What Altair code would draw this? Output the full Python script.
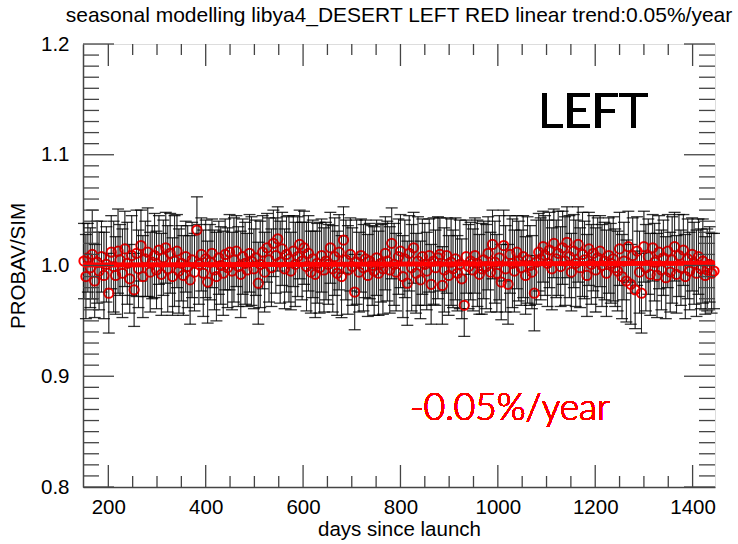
import altair as alt
import pandas as pd

# Days since launch of each seasonal-model comparison
days = [
    150, 154, 158, 163, 167, 172, 177, 181, 186, 191, 196,
    201, 206, 211, 215, 220, 224, 229, 234, 239, 244, 248,
    253, 258, 262, 267, 271, 276, 281, 286, 290, 295, 299,
    304, 309, 313, 318, 322, 327, 332, 336, 341, 345, 350,
    354, 359, 363, 368, 372, 377, 382, 386, 391, 395, 400,
    404, 409, 413, 418, 422, 427, 431, 436, 440, 445, 449,
    454, 458, 463, 467, 472, 476, 481, 485, 490, 494, 499,
    503, 508, 512, 517, 521, 526, 530, 535, 539, 544, 548,
    553, 557, 562, 566, 571, 575, 580, 584, 589, 593, 598,
    602, 607, 611, 616, 620, 625, 629, 634, 638, 643, 647,
    652, 656, 661, 665, 670, 674, 679, 683, 688, 692, 697,
    701, 706, 710, 715, 719, 724, 728, 733, 737, 742, 746,
    751, 755, 760, 764, 769, 773, 778, 782, 787, 791, 796,
    800, 805, 809, 814, 818, 823, 827, 832, 836, 841, 845,
    850, 854, 859, 863, 868, 872, 877, 881, 886, 890, 895,
    899, 904, 908, 913, 917, 922, 926, 931, 935, 940, 944,
    949, 953, 958, 962, 967, 971, 976, 980, 985, 989, 994,
    998, 1003, 1007, 1012, 1016, 1021, 1025, 1030, 1034, 1039, 1043,
    1048, 1052, 1057, 1061, 1066, 1070, 1075, 1079, 1084, 1088, 1093,
    1097, 1102, 1106, 1111, 1115, 1120, 1124, 1129, 1133, 1138, 1142,
    1147, 1151, 1156, 1160, 1165, 1169, 1174, 1178, 1183, 1187, 1192,
    1196, 1201, 1205, 1210, 1214, 1219, 1223, 1228, 1232, 1237, 1241,
    1246, 1250, 1255, 1259, 1264, 1268, 1273, 1277, 1282, 1286, 1291,
    1295, 1300, 1304, 1309, 1313, 1318, 1322, 1327, 1331, 1336, 1340,
    1345, 1349, 1354, 1358, 1363, 1367, 1372, 1376, 1381, 1385, 1390,
    1394, 1399, 1403, 1408, 1412, 1417, 1421, 1426, 1430, 1435, 1439, 1444,
]

# PROBAV / simulated reflectance ratio
ratio = [
    1.004, 0.990, 1.007, 0.998, 1.010, 0.986, 1.003, 0.995, 1.008, 0.991, 1.001,
    0.975, 1.012, 0.999, 0.991, 1.013, 1.005, 0.993, 1.015, 1.002, 0.988, 1.009,
    0.978, 1.011, 0.997, 1.018, 0.990, 1.006, 1.012, 0.994, 1.003, 1.009, 0.996,
    1.014, 0.992, 1.007, 1.016, 0.997, 1.011, 0.990, 1.004, 1.013, 0.995, 1.002,
    0.991, 1.008, 0.999, 0.987, 1.005, 0.994, 1.032, 1.001, 1.010, 0.993, 1.006,
    0.985, 1.003, 1.011, 0.996, 0.990, 1.007, 1.000, 0.993, 1.010, 0.998, 1.012,
    0.995, 1.005, 1.013, 0.999, 0.992, 1.008, 1.002, 0.996, 1.011, 1.004, 0.997,
    1.007, 0.984, 1.001, 1.012, 0.994, 1.016, 1.005, 0.998, 1.020, 1.009, 1.024,
    1.003, 1.015, 0.997, 1.010, 1.006, 0.995, 1.013, 1.001, 1.008, 1.019, 1.004,
    1.016, 0.999, 1.011, 0.994, 1.006, 0.992, 1.002, 0.998, 1.009, 0.996, 1.004,
    1.001, 1.016, 0.997, 1.008, 0.993, 1.012, 0.990, 1.023, 1.005, 0.996, 1.010,
    0.999, 0.976, 1.003, 0.994, 1.009, 0.998, 1.006, 0.991, 1.004, 1.000, 0.995,
    1.007, 0.993, 1.002, 0.997, 1.011, 1.004, 0.996, 1.020, 1.001, 0.994, 1.008,
    1.013, 0.990, 1.006, 0.984, 1.011, 0.998, 1.016, 0.993, 1.004, 0.987, 1.008,
    1.001, 0.995, 1.009, 0.983, 1.004, 0.998, 1.007, 1.010, 0.982, 0.996, 1.009,
    0.991, 1.003, 0.997, 1.006, 0.993, 1.001, 0.988, 0.964, 1.008, 0.999, 1.004,
    0.996, 1.009, 1.002, 0.992, 0.997, 1.005, 0.999, 1.011, 0.994, 1.019, 1.003,
    0.993, 1.007, 0.985, 1.018, 0.997, 0.983, 1.010, 1.002, 0.995, 1.012, 1.004,
    0.998, 1.008, 0.991, 1.005, 1.000, 0.994, 0.975, 1.003, 1.012, 1.006, 1.017,
    1.009, 1.002, 1.014, 0.997, 1.020, 1.006, 1.011, 0.999, 1.016, 1.004, 1.021,
    1.008, 0.994, 1.013, 1.002, 1.019, 0.998, 1.010, 1.005, 0.991, 1.015, 1.001,
    1.011, 0.996, 1.007, 1.013, 1.000, 1.004, 0.993, 1.009, 1.002, 1.006, 0.998,
    0.995, 1.015, 0.990, 1.004, 0.986, 1.017, 0.983, 1.009, 0.978, 1.013, 0.994,
    0.975, 1.017, 0.998, 1.008, 0.992, 1.016, 1.003, 0.991, 1.012, 0.996, 1.007,
    0.989, 1.013, 0.994, 1.005, 1.017, 0.992, 1.009, 0.998, 1.014, 0.990, 1.006,
    0.995, 1.010, 1.002, 0.993, 1.008, 0.997, 1.004, 0.991, 0.996, 1.001, 0.993, 0.995,
]

# Half-length of each error bar
err = [
    0.034, 0.038, 0.031, 0.036, 0.040, 0.033, 0.037, 0.035, 0.032, 0.039, 0.034,
    0.036, 0.033, 0.041, 0.035, 0.038, 0.032, 0.040, 0.034, 0.037, 0.031, 0.036,
    0.033, 0.039, 0.035, 0.032, 0.037, 0.034, 0.040, 0.036, 0.033, 0.038, 0.035,
    0.031, 0.037, 0.034, 0.032, 0.039, 0.036, 0.035, 0.041, 0.033, 0.038, 0.034,
    0.036, 0.032, 0.037, 0.040, 0.034, 0.035, 0.030, 0.036, 0.033, 0.039, 0.035,
    0.037, 0.034, 0.031, 0.036, 0.040, 0.033, 0.035, 0.038, 0.032, 0.036, 0.034,
    0.035, 0.038, 0.032, 0.036, 0.039, 0.034, 0.037, 0.033, 0.035, 0.040, 0.036,
    0.034, 0.037, 0.039, 0.033, 0.036, 0.031, 0.038, 0.035, 0.030, 0.034, 0.029,
    0.037, 0.033, 0.036, 0.034, 0.039, 0.035, 0.032, 0.038, 0.036, 0.031, 0.035,
    0.033, 0.040, 0.034, 0.037, 0.035, 0.039, 0.036, 0.041, 0.033, 0.038, 0.035,
    0.036, 0.032, 0.039, 0.035, 0.038, 0.034, 0.037, 0.030, 0.036, 0.040, 0.033,
    0.035, 0.034, 0.038, 0.036, 0.033, 0.039, 0.035, 0.037, 0.034, 0.036, 0.040,
    0.034, 0.038, 0.035, 0.041, 0.033, 0.036, 0.039, 0.032, 0.037, 0.035, 0.034,
    0.033, 0.037, 0.035, 0.038, 0.034, 0.039, 0.032, 0.036, 0.040, 0.035, 0.034,
    0.037, 0.035, 0.033, 0.036, 0.039, 0.034, 0.037, 0.033, 0.035, 0.038, 0.034,
    0.036, 0.039, 0.035, 0.037, 0.034, 0.040, 0.036, 0.028, 0.033, 0.038, 0.035,
    0.037, 0.034, 0.039, 0.036, 0.041, 0.035, 0.038, 0.033, 0.036, 0.031, 0.037,
    0.035, 0.038, 0.034, 0.032, 0.039, 0.036, 0.035, 0.040, 0.037, 0.033, 0.036,
    0.034, 0.037, 0.035, 0.039, 0.036, 0.033, 0.034, 0.038, 0.035, 0.037, 0.032,
    0.036, 0.039, 0.034, 0.037, 0.031, 0.035, 0.038, 0.036, 0.033, 0.040, 0.032,
    0.037, 0.035, 0.033, 0.039, 0.034, 0.036, 0.038, 0.035, 0.037, 0.033, 0.036,
    0.034, 0.038, 0.036, 0.032, 0.037, 0.035, 0.039, 0.034, 0.036, 0.038, 0.035,
    0.036, 0.033, 0.038, 0.035, 0.037, 0.032, 0.036, 0.034, 0.035, 0.031, 0.037,
    0.036, 0.032, 0.039, 0.034, 0.037, 0.030, 0.035, 0.038, 0.033, 0.036, 0.034,
    0.037, 0.033, 0.036, 0.039, 0.031, 0.035, 0.037, 0.034, 0.032, 0.038, 0.036,
    0.035, 0.033, 0.037, 0.039, 0.034, 0.036, 0.038, 0.035, 0.037, 0.034, 0.036, 0.034,
]

# Fitted linear trend, end points
trend_days = [148, 1446]
trend_ratio = [1.0004, 1.0021]

# Axis ticks (IDL style: inward on all four sides)
x_major = [200, 400, 600, 800, 1000, 1200, 1400]
x_minor = [250, 300, 350, 450, 500, 550, 650, 700, 750, 850, 900, 950,
           1050, 1100, 1150, 1250, 1300, 1350]
y_major = [0.8, 0.9, 1.0, 1.1, 1.2]
y_minor = [round(0.8 + 0.01 * i, 2) for i in range(1, 40) if i % 10 != 0]

X_DOMAIN = [148, 1446]
Y_DOMAIN = [0.8, 1.2]
W, H = 632, 443
FONT = "Liberation Sans"
FS = 20.5

df = pd.DataFrame({"day": days, "ratio": ratio, "err": err})
df["lo"] = df["ratio"] - df["err"]
df["hi"] = df["ratio"] + df["err"]

xs = alt.Scale(domain=X_DOMAIN, nice=False, zero=False)
ys = alt.Scale(domain=Y_DOMAIN, nice=False, zero=False)

x_axis = alt.Axis(values=x_major, ticks=False, grid=False, labelFontSize=FS,
                  labelFont=FONT, labelColor="black", labelPadding=10,
                  format="d", title="days since launch", titleFont=FONT,
                  titleFontSize=FS, titleFontWeight="normal", titleColor="black",
                  titlePadding=2, domainColor="#444", domainWidth=1.5)
y_axis = alt.Axis(values=y_major, ticks=False, grid=False, labelFontSize=FS,
                  labelFont=FONT, labelColor="black", labelPadding=14,
                  format=".1f", title="PROBAV/SIM", titleFont=FONT,
                  titleFontSize=FS, titleFontWeight="normal", titleColor="black",
                  titlePadding=12, domainColor="#444", domainWidth=1.5)

base = alt.Chart(df)

bars = base.mark_rule(color="black", strokeWidth=1, opacity=0.75).encode(
    x=alt.X("day:Q", scale=xs, axis=x_axis),
    y=alt.Y("lo:Q", scale=ys, axis=y_axis),
    y2="hi:Q",
)
caps_hi = base.mark_tick(color="black", orient="horizontal", size=12,
                         thickness=1.3, opacity=0.8).encode(
    x=alt.X("day:Q", scale=xs), y=alt.Y("hi:Q", scale=ys))
caps_lo = base.mark_tick(color="black", orient="horizontal", size=12,
                         thickness=1.3, opacity=0.8).encode(
    x=alt.X("day:Q", scale=xs), y=alt.Y("lo:Q", scale=ys))

points = base.mark_point(shape="circle", filled=False, color="#ff0000",
                         strokeWidth=2, size=85, opacity=1).encode(
    x=alt.X("day:Q", scale=xs), y=alt.Y("ratio:Q", scale=ys))

# Bars drawn once more, faintly, so overlapping symbols read darker
bars_over = base.mark_rule(color="black", strokeWidth=1, opacity=0.45).encode(
    x=alt.X("day:Q", scale=xs), y=alt.Y("lo:Q", scale=ys), y2="hi:Q")

trend_df = pd.DataFrame({"day": trend_days, "ratio": trend_ratio})
trend = alt.Chart(trend_df).mark_line(color="#ff0000", strokeWidth=5).encode(
    x=alt.X("day:Q", scale=xs), y=alt.Y("ratio:Q", scale=ys))

# Inward tick marks on all four sides
def xticks(values, length):
    d = pd.DataFrame({"v": values})
    bottom = alt.Chart(d).mark_rule(color="#444", strokeWidth=1.3).encode(
        x=alt.X("v:Q", scale=xs), y=alt.value(H), y2=alt.value(H - length))
    top = alt.Chart(d).mark_rule(color="#444", strokeWidth=1.3).encode(
        x=alt.X("v:Q", scale=xs), y=alt.value(0), y2=alt.value(length))
    return bottom + top

def yticks(values, length):
    d = pd.DataFrame({"v": values})
    left = alt.Chart(d).mark_rule(color="#444", strokeWidth=1.3).encode(
        y=alt.Y("v:Q", scale=ys), x=alt.value(0), x2=alt.value(length))
    right = alt.Chart(d).mark_rule(color="#444", strokeWidth=1.3).encode(
        y=alt.Y("v:Q", scale=ys), x=alt.value(W), x2=alt.value(W - length))
    return left + right

ticks = xticks(x_major, 22) + xticks(x_minor, 11) + yticks(y_major, 31) + yticks(y_minor, 16)

left_label = alt.Chart(df).mark_text(
    text="LEFT", font="Lato", fontSize=49, fontWeight=400, color="black",
    align="center", baseline="alphabetic").encode(
    x=alt.datum(1195), y=alt.datum(1.124))
trend_label = alt.Chart(df).mark_text(
    text="-0.05%/year", font="Lato", fontSize=37, fontWeight=300,
    color="#ff0000", align="center", baseline="alphabetic").encode(
    x=alt.datum(1025), y=alt.datum(0.8605))

chart = alt.layer(
    bars, caps_hi, caps_lo, points, bars_over, trend, ticks, left_label, trend_label
).properties(
    width=W, height=H,
    title=alt.TitleParams(
        "seasonal modelling libya4_DESERT LEFT RED linear trend:0.05%/year",
        font=FONT, fontSize=21, fontWeight="normal", color="black",
        anchor="middle", offset=8),
    autosize=alt.AutoSizeParams(type="none"),
    padding={"left": 83, "top": 44, "right": 23, "bottom": 57},
).configure_view(stroke="#444", strokeWidth=1.5).configure(background="white")

chart.save("out.html", embed_options={"renderer": "svg", "actions": False})
